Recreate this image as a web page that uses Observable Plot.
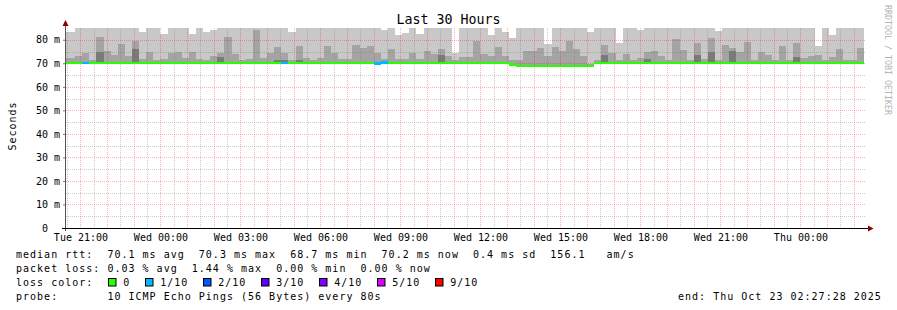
<!DOCTYPE html>
<html><head><meta charset="utf-8">
<script src="https://cdn.jsdelivr.net/npm/d3@7"></script>
<script src="https://cdn.jsdelivr.net/npm/@observablehq/plot@0.6"></script>
<style>
html,body{margin:0;padding:0;background:#fff;}
#chart{width:897px;height:310px;overflow:hidden;}
</style></head><body><div id="chart"></div>
<script>
// ---- data ----
const startTime = "2025-10-21T20:27:28Z";
const endTime = "2025-10-23T02:27:28Z";
const firstBin = "2025-10-21T20:16:00Z";
const binMinutes = 16;

// top of the light smoke (highest ping, clipped at graph top)
const smokeTop = [
83.4,83.4,85,85,85,85,85,85,85,85,
85,83.4,85,85,82.6,85,85,85,82.6,85,
83.4,84.3,85,85,85,85,85,85,85,85,
85,85,83.4,85,85,85,85,85,85,85,
85,85,85,85,85,84.3,85,82.0,83.0,85,
82.4,85,85,85,85,74.3,85,85,85,85,
82.0,85,83.4,80.7,85,85,85,85,78.0,85,
85,85,85,85,83.4,85,85,85,78.7,85,
85,84.3,85,85,85,85,85,85,85,85,
85,85,83.7,85,85,85,85,85,85,85,
85,85,85,85,85,85,77.4,85,82.1,85,
85,85,85];

// top of the medium smoke
const smokeMid = [
72.2,72.2,73.2,74.2,71.5,81.3,75.3,73.6,78.3,73.2,
79.6,72.0,74.9,71.2,72.0,74.2,74.9,72.3,74.6,72.0,
71.3,73.2,74.5,81.3,73.8,71.3,72.0,84.3,72.3,74.5,
77.0,74.5,71.5,77.4,72.3,71.6,72.3,77.4,74.5,72.0,
72.0,77.9,76.6,77.4,74.5,72.0,76.2,72.0,72.0,74.5,
72.0,75.3,74.0,76.2,73.2,71.5,72.8,72.8,79.6,74.0,
73.2,77.0,73.2,71.3,71.3,75.3,75.3,76.6,73.2,77.0,
75.3,79.6,76.2,73.2,69.5,71.5,77.9,74.5,71.3,74.0,
71.3,72.3,74.9,75.3,73.2,71.5,80.4,75.7,71.5,78.7,
72.0,80.9,71.3,77.9,76.6,74.9,79.1,71.3,74.9,73.6,
71.3,77.4,71.5,78.7,72.3,73.2,73.6,71.3,72.8,76.2,
71.3,71.5,76.6];

// top of the dark smoke (null = none visible)
const smokeDark = [
null,null,null,null,null,74.9,null,null,null,null,
76.2,null,null,null,null,null,null,null,null,null,
null,null,72.8,null,null,null,null,null,null,null,
71.3,71.5,null,71.3,null,null,null,null,null,null,
null,null,null,null,null,null,null,null,null,null,
null,null,null,73.6,null,null,null,null,null,null,
null,null,null,null,null,null,null,null,null,null,
null,null,null,null,null,null,73.6,null,null,null,
null,null,72.0,null,null,null,null,null,null,73.6,
null,74.9,null,null,75.3,null,null,null,null,null,
null,null,null,72.8,null,null,null,null,null,null,
null,null,null];

// median rtt (ms)
const medianRtt = [
70.2,70.2,70.2,70.2,70.0,70.0,70.2,70.2,70.2,70.2,
70.0,70.2,70.2,70.2,70.0,70.2,70.2,70.0,70.2,70.2,
70.2,70.0,70.2,70.2,70.0,70.2,70.2,70.2,70.2,70.0,
70.2,70.2,70.0,70.2,70.2,70.2,70.2,70.2,70.0,70.0,
70.0,70.2,70.2,70.0,69.9,70.4,70.2,70.2,70.2,70.2,
70.0,70.0,70.2,70.2,70.2,70.2,70.2,70.2,70.2,70.2,
70.2,70.2,70.2,69.5,68.8,68.8,68.8,68.8,68.8,68.8,
68.8,68.8,68.8,68.8,68.8,70.2,70.2,70.2,70.2,70.2,
70.2,70.2,70.2,70.2,70.2,70.2,70.2,70.2,70.2,70.2,
70.2,70.2,70.2,70.2,70.2,70.2,70.2,70.2,70.2,70.2,
70.2,70.2,70.2,70.2,70.2,70.2,70.2,70.2,70.2,70.2,
70.2,70.2,70.2];

// lost pings out of 10
const lossTenths = [
0,0,0,1,0,0,0,0,0,0,
0,0,0,0,0,0,0,0,0,0,
0,0,0,0,0,0,0,0,0,0,
0,1,0,0,0,0,0,0,0,0,
0,0,0,0,1,1,0,0,0,0,
0,0,0,0,0,0,0,0,0,0,
0,0,0,0,0,0,0,0,0,0,
0,0,0,0,0,0,0,0,0,0,
0,0,0,0,0,0,0,0,0,0,
0,0,0,0,0,0,0,0,0,0,
0,0,0,0,0,0,0,0,0,0,
0,0,0];

const xTickTimes = ["2025-10-21T21:00:00Z","2025-10-22T00:00:00Z","2025-10-22T03:00:00Z","2025-10-22T06:00:00Z","2025-10-22T09:00:00Z","2025-10-22T12:00:00Z","2025-10-22T15:00:00Z","2025-10-22T18:00:00Z","2025-10-22T21:00:00Z","2025-10-23T00:00:00Z"];
const xTickLabels = ["Tue 21:00","Wed 00:00","Wed 03:00","Wed 06:00","Wed 09:00","Wed 12:00","Wed 15:00","Wed 18:00","Wed 21:00","Thu 00:00"];
const yTicks = [0,10,20,30,40,50,60,70,80];
const yTickLabels = ["0\u00a0\u00a0","10\u00a0m","20\u00a0m","30\u00a0m","40\u00a0m","50\u00a0m","60\u00a0m","70\u00a0m","80\u00a0m"];
const yMinorTicks = [5,15,25,35,45,55,65,75];
const yMax = 85;

const lossLevelLabels = ["0","1/10","2/10","3/10","4/10","5/10","9/10"];
const lossLevelTenths = [0,1,2,3,4,5,9];
const lossPalette = ["#26ff00","#00b8ff","#0059ff","#5e00ff","#7e00ff","#dd00ff","#ff0000"];

const titleText = "Last 30 Hours";
const yLabelText = "Seconds";
const sideText = "RRDTOOL / TOBI OETIKER";
const legendLines = [
  "median rtt:  70.1 ms avg  70.3 ms max  68.7 ms min  70.2 ms now  0.4 ms sd  156.1   am/s",
  "packet loss: 0.03 % avg  1.44 % max  0.00 % min  0.00 % now",
  "loss color:",
  "probe:       10 ICMP Echo Pings (56 Bytes) every 80s"
];
const endText = "end: Thu Oct 23 02:27:28 2025";

// ---- build table ----
const t0ms = +new Date(firstBin);
const stepMs = binMinutes * 60000;
const bins = smokeTop.map((top, i) => ({
  t0: new Date(t0ms + i * stepMs),
  t1: new Date(t0ms + (i + 1) * stepMs),
  top, mid: smokeMid[i], dark: smokeDark[i], med: medianRtt[i],
  color: lossPalette[lossLevelTenths.indexOf(lossTenths[i])]
}));
const start = new Date(startTime), end = new Date(endTime);
const xTickDates = xTickTimes.map(s => new Date(s));
const hourLines = d3.utcHour.range(start, end);
const halfHourLines = d3.utcMinute.every(30).range(start, end).filter(d => d.getUTCMinutes() === 30);

const FONT = "DejaVu Sans Mono";
const MINOR = "rgba(120,120,120,0.38)";
const MAJOR = "rgba(255,0,0,0.3)";
const chart = Plot.plot({
  width: 897, height: 310,
  marginLeft: 66, marginRight: 31, marginTop: 28, marginBottom: 82,
  style: {fontFamily: FONT, fontSize: "10px", background: "white", color: "black"},
  x: {type: "utc", domain: [start, end]},
  y: {domain: [0, yMax]},
  color: {type: "identity"},
  marks: [
    Plot.rect(bins, {x1: "t0", x2: "t1", y1: "med", y2: "top", fill: "#c8c8c8", clip: true, shapeRendering: "crispEdges"}),
    Plot.rect(bins, {x1: "t0", x2: "t1", y1: "med", y2: "mid", fill: "#a4a4a4", clip: true, shapeRendering: "crispEdges"}),
    Plot.rect(bins.filter(d => d.dark != null), {x1: "t0", x2: "t1", y1: "med", y2: "dark", fill: "#7a7a7a", clip: true, shapeRendering: "crispEdges"}),
    Plot.ruleX(halfHourLines, {stroke: MINOR, strokeDasharray: "1,1", shapeRendering: "crispEdges"}),
    Plot.ruleX(hourLines, {stroke: MAJOR, strokeDasharray: "1,1", shapeRendering: "crispEdges"}),
    Plot.ruleY(yMinorTicks, {stroke: MINOR, strokeDasharray: "1,1", shapeRendering: "crispEdges"}),
    Plot.ruleY(yTicks.filter(v => v > 0), {stroke: MAJOR, strokeDasharray: "1,1", shapeRendering: "crispEdges"}),
    Plot.rect(bins, {x1: "t0", x2: "t1", y1: d => d.med - 0.5, y2: d => d.med + 0.5, fill: "color", clip: true, shapeRendering: "crispEdges"}),
    Plot.axisX({ticks: xTickDates, tickFormat: d => xTickLabels[xTickDates.findIndex(t => +t === +d)], tickSize: 0, tickPadding: 5.6, label: null, fontSize: 10}),
    Plot.axisY({ticks: yTicks, tickFormat: d => yTickLabels[yTicks.indexOf(d)], tickSize: 3, tickPadding: 3.5, label: null, fontSize: 10, stroke: "#777"})
  ]
});
document.getElementById("chart").appendChild(chart);

// ---- frame decorations & text ----
const svg = d3.select(chart);
const xs = chart.scale("x"), ys = chart.scale("y");
const px0 = xs.apply(start), px1 = xs.apply(end);
const py0 = ys.apply(0), pyTop = ys.apply(yMax);

svg.append("line").attr("x1", px0 - 0.5).attr("x2", px0 - 0.5).attr("y1", py0 + 3).attr("y2", pyTop - 3)
  .attr("stroke", "#555").attr("stroke-width", 1);
svg.append("line").attr("x1", px0 - 4).attr("x2", px1 + 3).attr("y1", py0 + 0.5).attr("y2", py0 + 0.5)
  .attr("stroke", "#000").attr("stroke-width", 1);
svg.append("path").attr("d", `M${px1+2},${py0-2.5}L${px1+7.5},${py0+0.5}L${px1+2},${py0+3.5}Z`).attr("fill", "#8b0000");
svg.append("path").attr("d", `M${px0-3.5},${pyTop-2}L${px0-0.5},${pyTop-8}L${px0+2.5},${pyTop-2}Z`).attr("fill", "#8b0000");

function addText(str, x, y, size, spacing, anchor) {
  return svg.append("text").text(str).attr("x", x).attr("y", y)
    .attr("text-anchor", anchor || "start")
    .attr("xml:space", "preserve").style("white-space", "pre")
    .attr("font-family", FONT).attr("font-size", size)
    .attr("letter-spacing", spacing).attr("fill", "#000");
}

addText(titleText, 448.5, 24, 13.3, 0, "middle");

svg.append("text").text(yLabelText).attr("transform", `translate(15.5,${(py0 + pyTop) / 2 - 2}) rotate(-90)`)
  .attr("text-anchor", "middle").attr("font-family", FONT).attr("font-size", 10).attr("letter-spacing", 1.0).attr("fill", "#000");

svg.append("text").text(sideText).attr("transform", "translate(885,5) rotate(90)")
  .attr("text-anchor", "start").attr("font-family", FONT).attr("font-size", 8.3).attr("fill", "#b4b4b4");

const legendBaselines = [257.5, 271.5, 285.5, 299.6];
legendLines.forEach((s, i) => addText(s, 16, legendBaselines[i], 10, 1.01));
addText(endText, 678, legendBaselines[3], 10, 1.01);

const boxX = [108.5, 145.5, 203.5, 261.5, 319.5, 377.5, 435.5];
lossLevelLabels.forEach((lab, i) => {
  svg.append("rect").attr("x", boxX[i]).attr("y", 278.5).attr("width", 7.5).attr("height", 7.5)
    .attr("fill", lossPalette[i]).attr("stroke", "#000").attr("stroke-width", 1);
  addText(lab, boxX[i] + 14.7, legendBaselines[2], 10, 1.01);
});
</script></body></html>
